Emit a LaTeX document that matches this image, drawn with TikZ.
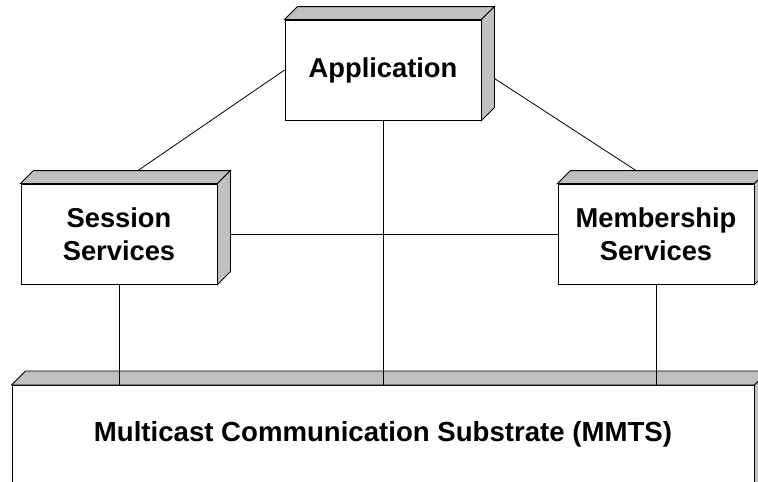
\documentclass[tikz,border=0pt]{standalone}
\usepackage{fontspec}
\setmainfont{Liberation Sans}
\usetikzlibrary{calc}
\definecolor{boxgrey}{HTML}{C0C0C0}
\newcommand\boxfaces[2]{%
  \draw[face] (#1.north west) -- ++(#2,-#2) -- ($(#1.north east)+(#2,-#2)$) -- (#1.north east) -- cycle;
  \draw[face] (#1.north east) -- ++(#2,-#2) -- ($(#1.south east)+(#2,-#2)$) -- (#1.south east) -- cycle;}
\begin{document}
\begin{tikzpicture}[x=1pt,y=-1pt,line width=0.9pt,
  front/.style={draw, fill=white, minimum width=196pt, minimum height=100pt, inner sep=0pt, align=center,
    font=\fontsize{27.3}{33}\selectfont\bfseries},
  face/.style={draw, fill=boxgrey, line join=miter},
  link/.style={draw, line width=0.8pt}]
\useasboundingbox (0,0) rectangle (758,482);
\clip (0,0) rectangle (758,482);
% bottom substrate box
\node[draw, fill=white, minimum width=742pt, minimum height=200pt, inner sep=0pt, anchor=north] (mmts) at (383,385) {};
\boxfaces{mmts}{14}
\node[font=\fontsize{27.6}{33}\selectfont\bfseries] (mmtslabel) at (383,434) {Multicast Communication Substrate (MMTS)};
% upper boxes (positions only)
\coordinate (appc) at (383,70);
\coordinate (sessc) at (119,234);
\coordinate (membc) at (656,234);
\node[front] (app) at (appc) {Application};
\node[front] (sess) at (sessc) {Session\\Services};
\node[front] (memb) at (membc) {Membership\\Services};
% connectors
\draw[link] (app.west) -- (sess.north);
\draw[link] (app.east) -- (memb.north);
\draw[link] (sess.east) -- (memb.west);
\draw[link] (app.south) -- (app.south |- mmts.north);
\draw[link] (sess.south) -- (sess.south |- mmts.north);
\draw[link] (memb.south) -- (memb.south |- mmts.north);
% redraw upper boxes on top
\node[front] at (appc) {Application};
\node[front] at (sessc) {Session\\Services};
\node[front] at (membc) {Membership\\Services};
\boxfaces{app}{13}
\boxfaces{sess}{13}
\boxfaces{memb}{13}
\end{tikzpicture}
\end{document}
